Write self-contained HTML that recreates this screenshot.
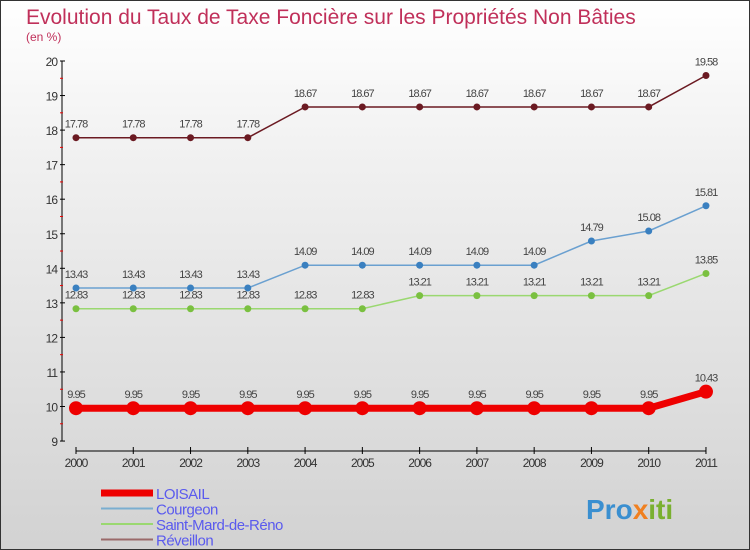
<!DOCTYPE html>
<html><head><meta charset="utf-8"><style>
body{margin:0}
#c{width:750px;height:550px;position:relative;box-sizing:border-box;border:1px solid #333;background:linear-gradient(#fff,#f0f0f0 30%,#d2d2d2);font-family:"Liberation Sans",sans-serif;overflow:hidden}
</style></head><body>
<div id="c">
<svg id="s" width="750" height="550" style="position:absolute;left:0;top:0">
<text x="25" y="23" font-size="21" fill="#c0305a">Evolution du Taux de Taxe Foncière sur les Propriétés Non Bâties</text>
<text x="25" y="40" font-size="12" fill="#c0305a">(en %)</text>
<text x="585" y="518" font-size="28" font-weight="bold" fill="#3a8fd0">Pro<tspan fill="#f08020">x</tspan><tspan fill="#7ab030">iti</tspan></text>
</svg>
</div>
<script>
const years=[2000,2001,2002,2003,2004,2005,2006,2007,2008,2009,2010,2011];
const yTicks=[9,10,11,12,13,14,15,16,17,18,19,20];
const loisail=[9.95,9.95,9.95,9.95,9.95,9.95,9.95,9.95,9.95,9.95,9.95,10.43];
const courgeon=[13.43,13.43,13.43,13.43,14.09,14.09,14.09,14.09,14.09,14.79,15.08,15.81];
const saintMard=[12.83,12.83,12.83,12.83,12.83,12.83,13.21,13.21,13.21,13.21,13.21,13.85];
const reveillon=[17.78,17.78,17.78,17.78,18.67,18.67,18.67,18.67,18.67,18.67,18.67,19.58];
const seriesNames=["LOISAIL","Courgeon","Saint-Mard-de-Réno","Réveillon"];
const NS="http://www.w3.org/2000/svg",svg=document.getElementById('s');
const X=i=>75+i*57.27, Y=v=>60+(20-v)*34.55;
function mk(t,a,p){const e=document.createElementNS(NS,t);for(const k in a)e.setAttribute(k,a[k]);(p||svg).appendChild(e);return e;}
let e=mk('line',{x1:61,y1:60,x2:61,y2:440,stroke:'#000'});

e=mk('line',{x1:75,y1:450,x2:705,y2:450,stroke:'#000'});

yTicks.forEach(v=>{mk('line',{x1:59,y1:Y(v),x2:64,y2:Y(v),stroke:'#000'});
 if(v<20)mk('line',{x1:59,y1:Y(v+0.5),x2:62,y2:Y(v+0.5),stroke:'#e00'});
 const t=mk('text',{x:56,y:Y(v)+5,'font-size':12,fill:'#333','text-anchor':'end','letter-spacing':'-1'});t.textContent=v;
 });
years.forEach((y,i)=>{mk('line',{x1:X(i),y1:446,x2:X(i),y2:453,stroke:'#000'});
 const t=mk('text',{x:X(i),y:466,'font-size':12,fill:'#333','text-anchor':'middle','letter-spacing':'-1'});t.textContent=y;
 });
const defs=[[reveillon,'#6b1a22','#6b1a22',1.5,3.5,'reveillon'],[courgeon,'#6aa0d0','#3a80c0',1.5,3.5,'courgeon'],[saintMard,'#9ad870','#7ac040',1.5,3.5,'saint-mard'],[loisail,'#ee0000','#ee0000',7,7,'loisail']];
defs.forEach(([d,lc,pc,w,r,n])=>{
 const p=mk('polyline',{points:d.map((v,i)=>X(i)+','+Y(v)).join(' '),fill:'none',stroke:lc,'stroke-width':w});
 
 d.forEach((v,i)=>{const c=mk('circle',{cx:X(i),cy:Y(v),r:r,fill:pc});
  
  const t=mk('text',{x:X(i),y:Y(v)-10,'font-size':11,fill:'#444','text-anchor':'middle','letter-spacing':'-1'});t.textContent=v;
  });
});
const lc=['#ee0000','#7aaed0','#9ad870','#9a6a6a'],lw=[7,2,2,2];
seriesNames.forEach((s,i)=>{const y=492+i*15.5;
 const l=mk('line',{x1:100,y1:y,x2:152,y2:y,stroke:lc[i],'stroke-width':lw[i]});
 
 const t=mk('text',{x:155,y:y+6,'font-size':15,fill:'#5a5aee','letter-spacing':'-0.5'});t.textContent=s;
 });
</script>
</body></html>
